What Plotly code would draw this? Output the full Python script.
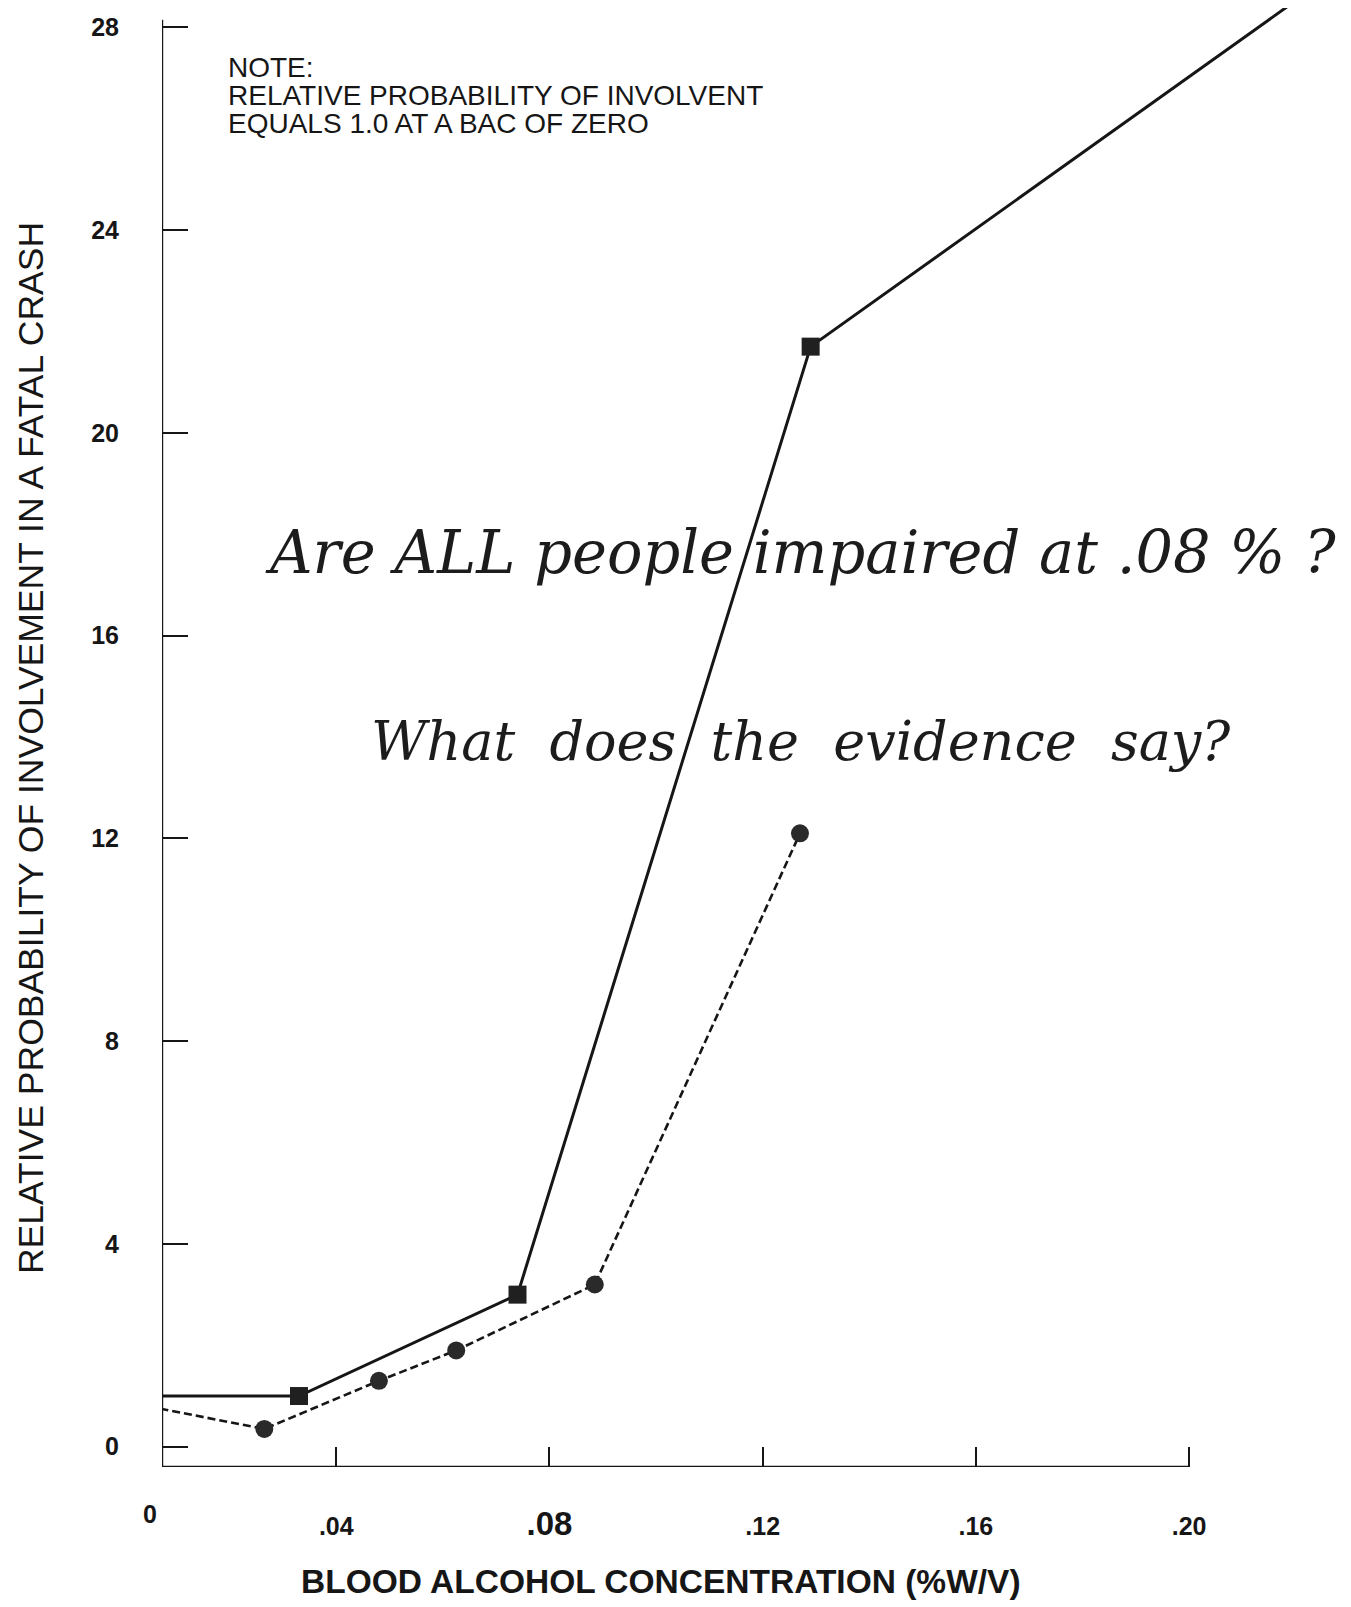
import plotly.graph_objects as go

# ---- data ----
bac_solid = [0.007, 0.033, 0.074, 0.129, 0.221]
rp_solid = [1.0, 1.0, 3.0, 21.7, 28.6]

bac_dashed = [0.007, 0.0265, 0.048, 0.0625, 0.0885, 0.127]
rp_dashed = [0.75, 0.35, 1.3, 1.9, 3.2, 12.1]

x_tickvals = [0.04, 0.08, 0.12, 0.16, 0.20]
x_ticktext = [".04", "<span style='font-size:33px'>.08</span>", ".12", ".16", ".20"]
y_tickvals = [0, 4, 8, 12, 16, 20, 24, 28]

note_lines = ["NOTE:", "RELATIVE PROBABILITY OF INVOLVENT", "EQUALS 1.0 AT A BAC OF ZERO"]
question_1 = "Are ALL people impaired at .08 % ?"
question_2 = "What  does  the  evidence  say?"

INK = "#161616"
X_MIN, X_MAX = 0.0073, 0.224
Y_MIN, Y_MAX = -0.4, 28.38

fig = go.Figure()
fig.add_trace(go.Scatter(
    x=bac_solid, y=rp_solid, mode="lines+markers",
    line=dict(color=INK, width=3),
    marker=dict(symbol="square", size=18, color="#202020"),
    cliponaxis=False, showlegend=False))
fig.add_trace(go.Scatter(
    x=bac_dashed, y=rp_dashed, mode="lines+markers",
    line=dict(color=INK, width=2.6, dash="8px,4px"),
    marker=dict(symbol="circle", size=18, color="#2a2a2a"),
    cliponaxis=False, showlegend=False))

fig.update_xaxes(
    range=[X_MIN, X_MAX], showgrid=False, zeroline=False, showline=False, automargin=False,
    tickvals=x_tickvals, ticktext=x_ticktext, ticks="inside", ticklen=20,
    tickwidth=2, tickcolor=INK, ticklabelstandoff=42,
    tickfont=dict(family="Liberation Sans", size=25, color=INK, weight="bold"))
fig.update_yaxes(
    range=[Y_MIN, Y_MAX], showgrid=False, zeroline=False, showline=False, automargin=False,
    tickvals=y_tickvals, ticks="inside", ticklen=26, tickwidth=2, tickcolor=INK,
    ticklabelstandoff=42,
    tickfont=dict(family="Liberation Sans", size=25, color=INK, weight="bold"))

# axis lines
fig.add_shape(type="line", xref="x", yref="y", x0=X_MIN, x1=X_MIN, y0=Y_MIN, y1=28.15,
              line=dict(color=INK, width=2.4))
fig.add_shape(type="line", xref="x", yref="y", x0=X_MIN, x1=0.20, y0=Y_MIN, y1=Y_MIN,
              line=dict(color=INK, width=2.6))

# "0" label of x axis
fig.add_annotation(xref="paper", yref="paper", x=-0.018, y=0, yshift=-63, text="0",
                   showarrow=False, font=dict(family="Liberation Sans", size=25, color=INK, weight="bold"))

# x axis title
fig.add_annotation(xref="paper", yref="paper", x=0.432, y=0, yshift=-114, xanchor="center",
                   yanchor="middle", text="BLOOD ALCOHOL CONCENTRATION (%W/V)", showarrow=False,
                   font=dict(family="Liberation Sans", size=33.5, color=INK, weight="bold"))

# y axis title
fig.add_annotation(xref="paper", yref="paper", x=-0.114, y=0.493, xanchor="center", yanchor="middle",
                   text="RELATIVE PROBABILITY OF INVOLVEMENT IN A FATAL CRASH", textangle=-90,
                   showarrow=False, font=dict(family="Liberation Sans", size=35.5, color=INK))

# note
for i, line in enumerate(note_lines):
    fig.add_annotation(xref="paper", yref="paper", x=0.055, y=0.9591 - i * 0.0190,
                       xanchor="left", yanchor="middle", align="left", text=line, showarrow=False,
                       font=dict(family="Liberation Sans", size=28, color=INK))

# questions
fig.add_annotation(xref="paper", yref="paper", x=0.553, y=0.627, xanchor="center", yanchor="middle",
                   text="<i>" + question_1 + "</i>", showarrow=False,
                   font=dict(family="DejaVu Serif", size=59, color="#1c1c1c"))
fig.add_annotation(xref="paper", yref="paper", x=0.553, y=0.4975, xanchor="center", yanchor="middle",
                   text="<i>" + question_2 + "</i>", showarrow=False,
                   font=dict(family="DejaVu Serif", size=54, color="#1c1c1c"))

fig.update_layout(
    width=1351, height=1607,
    margin=dict(l=154, r=42, t=0, b=148),
    paper_bgcolor="white", plot_bgcolor="white")

fig.write_html("out.html")
